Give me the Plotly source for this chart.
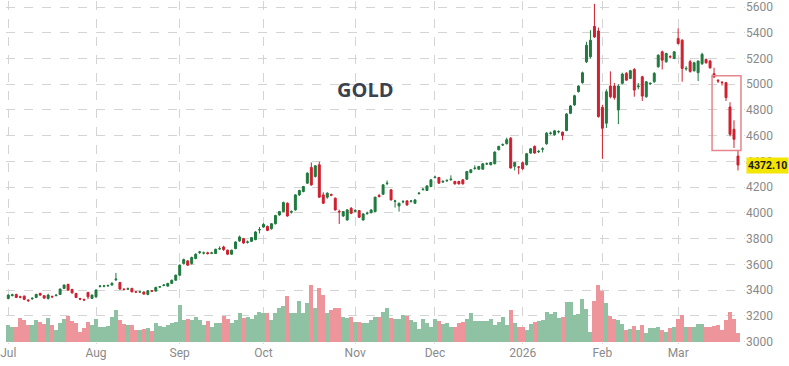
import pandas as pd
import plotly.graph_objects as go

# ---------------- data ----------------
HOLIDAYS = ["2025-07-04", "2025-09-01", "2025-12-25", "2026-01-01", "2026-01-19", "2026-02-16"]
dates = [d for d in pd.bdate_range("2025-07-01", "2026-03-23").strftime("%Y-%m-%d") if d not in HOLIDAYS]

OPEN = [3335,3358,3366,3348,3353,3322,3332,3343,3374,3356,
        3335,3350,3358,3366,3413,3444,3405,3374,3334,3326,
        3382,3335,3348,3428,3430,3433,3440,3480,3459,3407,
        3408,3413,3386,3385,3385,3366,3394,3392,3424,3437,
        3431,3452,3477,3516,3606,3627,3606,3645,3692,3688,
        3690,3686,3684,3720,3735,3710,3679,3722,3782,3800,
        3772,3779,3792,3868,3890,3895,3877,3916,3984,4010,
        4075,4005,4023,4140,4166,4231,4353,4283,4374,4140,
        4122,4142,4114,4012,3976,3945,4036,4012,4018,3945,
        3995,4002,4010,4135,4145,4228,4179,4090,4054,4085,
        4093,4090,4075,4150,4180,4174,4205,4275,4275,4240,
        4250,4258,4244,4244,4257,4262,4314,4345,4340,4340,
        4380,4374,4382,4491,4528,4538,4581,4362,4356,4390,
        4375,4465,4516,4475,4495,4537,4618,4607,4630,4627,
        4640,4774,4839,4942,5012,5174,5213,5450,5414,4821,
        4697,4986,4986,4800,5007,5084,5045,5115,4980,5058,
        4903,5002,5019,5136,5252,5174,5215,5200,5355,5342,
        5120,5175,5105,5090,5160,5193,5180,5082,5030,5015,
        5012,4823,4650,4442]
HIGH = [3368,3372,3372,3356,3358,3330,3345,3372,3380,3362,
        3372,3358,3366,3412,3444,3450,3410,3378,3340,3334,
        3386,3366,3405,3440,3440,3442,3462,3534,3464,3414,
        3420,3418,3392,3395,3390,3400,3400,3426,3432,3446,
        3456,3480,3520,3600,3645,3634,3660,3686,3705,3700,
        3698,3698,3722,3740,3745,3715,3714,3779,3824,3806,
        3785,3812,3858,3890,3920,3902,3920,3985,4015,4088,
        4082,4020,4145,4180,4210,4315,4392,4372,4398,4160,
        4160,4150,4120,4025,4015,4030,4045,4030,4022,3998,
        4010,4028,4126,4148,4222,4252,4185,4102,4080,4100,
        4100,4098,4106,4162,4192,4215,4262,4290,4280,4256,
        4262,4292,4250,4250,4262,4326,4340,4370,4365,4386,
        4392,4396,4478,4522,4540,4585,4590,4396,4364,4400,
        4466,4504,4525,4490,4510,4628,4632,4645,4642,4632,
        4775,4838,4918,4992,5098,5330,5420,5625,5440,4840,
        4960,5100,5010,5000,5090,5095,5112,5125,5010,5066,
        5025,5015,5095,5232,5262,5245,5225,5258,5435,5350,
        5140,5190,5175,5185,5245,5200,5190,5128,5040,5025,
        5018,4860,4720,4490]
LOW = [3328,3350,3338,3336,3322,3308,3325,3338,3356,3330,
       3326,3338,3350,3362,3408,3396,3372,3338,3322,3318,
       3330,3330,3340,3420,3422,3425,3435,3470,3402,3396,
       3400,3382,3378,3378,3364,3360,3384,3388,3418,3430,
       3426,3448,3472,3510,3598,3588,3598,3640,3680,3678,
       3676,3680,3680,3712,3705,3672,3674,3718,3776,3760,
       3762,3774,3788,3840,3884,3858,3870,3910,3978,4005,
       3970,3995,4018,4132,4160,4225,4210,4275,4118,4070,
       4110,4130,4018,3914,3968,3940,3990,4005,3960,3940,
       3985,3995,4005,4120,4140,4215,4096,4041,4010,4075,
       4055,4080,4070,4142,4175,4170,4200,4268,4226,4232,
       4240,4250,4220,4220,4220,4255,4308,4335,4334,4336,
       4372,4370,4378,4486,4520,4532,4345,4330,4300,4335,
       4368,4460,4460,4466,4470,4530,4608,4600,4618,4565,
       4635,4768,4832,4936,5005,5165,5200,5360,4740,4420,
       4660,4890,4880,4690,5000,5025,5040,4903,4960,4870,
       4895,4995,5012,5128,5115,5168,5200,5195,5310,5020,
       5105,5090,5098,5025,5150,5160,5120,5050,5010,4990,
       4870,4595,4505,4330]
CLOSE = [3361,3363,3343,3345,3328,3318,3336,3366,3361,3338,
         3361,3348,3361,3408,3439,3400,3379,3343,3330,3323,
         3348,3361,3400,3431,3433,3436,3452,3485,3408,3405,
         3410,3387,3385,3386,3369,3395,3392,3421,3426,3439,
         3452,3477,3516,3594,3637,3594,3653,3679,3697,3689,
         3684,3689,3717,3722,3715,3679,3710,3774,3813,3766,
         3774,3808,3852,3870,3911,3864,3916,3980,4010,4080,
         3976,4010,4140,4174,4205,4309,4218,4366,4122,4075,
         4153,4138,4023,4008,4010,4023,3997,4018,3966,3992,
         3997,4023,4122,4127,4218,4231,4101,4093,4075,4088,
         4062,4093,4101,4153,4184,4210,4257,4278,4231,4244,
         4252,4262,4226,4226,4226,4322,4335,4348,4361,4382,
         4382,4392,4473,4517,4530,4569,4349,4392,4356,4343,
         4460,4498,4465,4478,4498,4620,4620,4638,4632,4602,
         4769,4831,4911,4986,5089,5303,5342,5368,4749,4658,
         4942,4903,4896,4986,5079,5032,5105,4955,4986,4908,
         5019,5007,5084,5226,5187,5239,5213,5252,5316,5123,
         5123,5100,5167,5180,5232,5167,5128,5056,5025,5012,
         4896,4611,4572,4372.10]
VOLUME = [100,90,86,140,130,100,100,130,120,106,
          140,100,70,114,134,154,126,114,60,80,
          120,100,134,86,90,94,150,190,130,106,
          100,100,70,70,74,80,66,110,94,90,
          100,110,120,220,130,136,130,150,130,100,
          124,90,114,114,156,134,110,130,170,140,
          150,134,160,180,170,170,130,170,200,214,
          274,174,174,244,174,230,340,200,320,280,
          170,190,200,200,150,140,150,120,120,110,
          114,130,146,150,176,200,140,134,134,160,
          154,130,120,74,134,114,90,134,126,106,
          114,90,90,110,120,134,170,126,126,126,
          126,134,100,120,146,100,190,110,90,90,
          70,106,120,124,130,180,164,180,140,150,
          240,236,160,166,254,194,60,244,340,304,
          230,156,136,130,104,70,76,94,70,100,
          50,80,80,86,70,60,80,86,136,160,
          86,86,90,106,106,86,90,94,100,70,
          130,180,136,50]

MONTH_TICKS = ["2025-07-01", "2025-08-01", "2025-09-02", "2025-10-01", "2025-11-03",
               "2025-12-01", "2026-01-02", "2026-02-02", "2026-03-02"]
MONTH_LABELS = ["Jul", "Aug", "Sep", "Oct", "Nov", "Dec", "2026", "Feb", "Mar"]

TITLE = "GOLD"
LAST_PRICE = CLOSE[-1]
BOX_START = "2026-03-13"
BOX_LOW, BOX_HIGH = 4485, 5066

# ---------------- styles ----------------
UP, DOWN = "#1f7a3e", "#cf1f2e"
VOL_UP, VOL_DOWN = "#8fc2a2", "#ee949b"
GRID = "#d4d4d4"
TICK = "#8a8a8a"
FONT = "Roboto"

vol_colors = [VOL_UP if c > o else VOL_DOWN for o, c in zip(OPEN, CLOSE)]

fig = go.Figure()
fig.add_trace(go.Bar(x=dates, y=VOLUME, marker=dict(color=vol_colors, line=dict(width=0)),
                     yaxis="y", hoverinfo="skip", showlegend=False))
fig.add_trace(go.Candlestick(x=dates, open=OPEN, high=HIGH, low=LOW, close=CLOSE,
                             yaxis="y2", showlegend=False,
                             increasing=dict(line=dict(color=UP, width=1), fillcolor=UP),
                             decreasing=dict(line=dict(color=DOWN, width=1), fillcolor=DOWN)))

n = len(dates)
fig.update_layout(
    width=789, height=366,
    margin=dict(l=0, r=44, t=0, b=22),
    paper_bgcolor="white", plot_bgcolor="white",
    bargap=0,
    showlegend=False,
    font=dict(family=FONT, color=TICK, size=12),
    xaxis=dict(type="category", categoryorder="array", categoryarray=dates,
               tickvals=MONTH_TICKS, ticktext=MONTH_LABELS,
               range=[-0.57, n + 0.76],
               showgrid=True, gridcolor=GRID, griddash="dash", gridwidth=1,
               showline=False, zeroline=False, ticks="", rangeslider=dict(visible=False),
               tickfont=dict(size=12, color=TICK, family=FONT)),
    yaxis=dict(range=[-14.4, 2049.6], visible=False, showgrid=False, fixedrange=True),
    yaxis2=dict(overlaying="y", side="right", anchor="x",
                range=[2981, 5647], tick0=3000, dtick=200,
                showgrid=True, gridcolor=GRID, griddash="dash", gridwidth=1,
                zeroline=False, showline=False, ticks="", ticklabeloverflow="allow",
                tickfont=dict(size=12, color=TICK, family=FONT)),
    annotations=[
        dict(text="<b>" + TITLE + "</b>", xref="paper", yref="paper", x=0.487, y=0.741,
             xanchor="center", yanchor="middle",
             showarrow=False, font=dict(size=20, color="#3a4250", family="Open Sans")),
        dict(text="<b>%.2f</b>" % LAST_PRICE, xref="paper", yref="y2", x=1.0, y=LAST_PRICE,
             xanchor="left", yanchor="middle", xshift=1, showarrow=False,
             bgcolor="#f3e600", borderpad=1,
             font=dict(size=10.5, color="#1a1a1a", family=FONT)),
    ],
    shapes=[
        dict(type="rect", xref="x", yref="y2",
             x0=dates.index(BOX_START) - 0.5, x1=n - 1 + 0.75,
             y0=BOX_LOW, y1=BOX_HIGH,
             line=dict(color="#e5858c", width=1.5), fillcolor="rgba(0,0,0,0)"),
    ],
)

fig.write_html("out.html", config={"displayModeBar": False},
               post_script="document.body.style.margin='0';")
